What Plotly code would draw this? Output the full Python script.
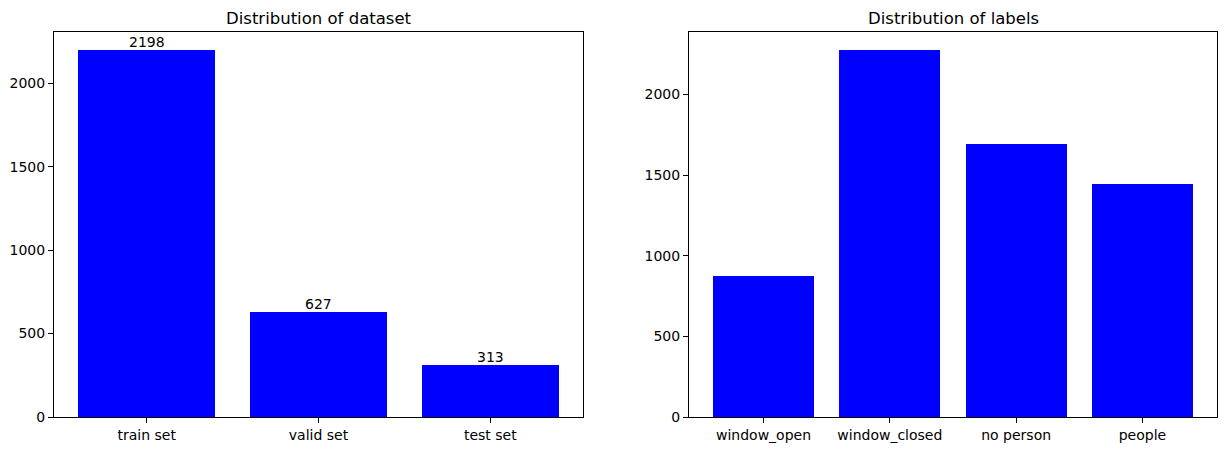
"""
plot.py - 데이터셋 분포 / 라벨 분포 막대차트 (1x2 subplot)
"""

import plotly.graph_objects as go
from plotly.subplots import make_subplots

BLUE = "#0000ff"
PAGE_W, PAGE_H = 1227, 451
OFF = 8  # html body 기본 margin
W, H = PAGE_W - 2 * OFF, PAGE_H - 2 * OFF

# 데이터
split_names = ["train set", "valid set", "test set"]
split_counts = [2198, 627, 313]

label_names = ["window_open", "window_closed", "no person", "people"]
label_counts = [872, 2273, 1693, 1446]

titles = ["Distribution of dataset", "Distribution of labels"]

FONT = dict(family="DejaVu Sans", size=14, color="black")


def px_x(x):
    """페이지 x 픽셀 → paper 좌표."""
    return (x - OFF) / W


def px_y(y):
    """페이지 y 픽셀(위에서부터) → paper 좌표."""
    return (H - (y - OFF)) / H


fig = make_subplots(rows=1, cols=2)

fig.add_trace(go.Bar(
    x=list(range(len(split_names))), y=split_counts,
    width=0.8, marker=dict(color=BLUE, line=dict(width=0)),
), row=1, col=1)

fig.add_trace(go.Bar(
    x=list(range(len(label_names))), y=label_counts,
    width=0.8, marker=dict(color=BLUE, line=dict(width=0)),
), row=1, col=2)

# 막대 위 값 라벨
for i, v in enumerate(split_counts):
    fig.add_annotation(
        x=i, y=v, xref="x", yref="y", text=str(v), showarrow=False,
        xanchor="center", yanchor="bottom", yshift=-2, font=FONT,
    )

# 축 (matplotlib 스타일: 5% 여백, 검은 테두리)
_axis = dict(
    showline=True, linecolor="black", linewidth=1.1, mirror=True,
    ticks="outside", ticklen=5, tickwidth=1.1, tickcolor="black",
    showgrid=False, zeroline=False, tickfont=FONT, automargin=False,
)

x_dom1 = [px_x(54), px_x(583)]
x_dom2 = [px_x(689), px_x(1217)]
y_dom = [px_y(417), px_y(32)]

fig.update_xaxes(
    domain=x_dom1,
    range=[-0.54, len(split_names) - 1 + 0.54],
    tickvals=list(range(len(split_names))), ticktext=split_names,
    **_axis, row=1, col=1,
)
fig.update_xaxes(
    domain=x_dom2,
    range=[-0.59, len(label_names) - 1 + 0.59],
    tickvals=list(range(len(label_names))), ticktext=label_names,
    **_axis, row=1, col=2,
)
fig.update_yaxes(domain=y_dom, range=[0, max(split_counts) * 1.05],
                 tickvals=[0, 500, 1000, 1500, 2000], **_axis, row=1, col=1)
fig.update_yaxes(domain=y_dom, range=[0, max(label_counts) * 1.05],
                 tickvals=[0, 500, 1000, 1500, 2000], **_axis, row=1, col=2)

# 서브플롯 제목
for t, dom in zip(titles, [x_dom1, x_dom2]):
    fig.add_annotation(
        text=t, x=(dom[0] + dom[1]) / 2, y=y_dom[1],
        xref="paper", yref="paper", xanchor="center", yanchor="bottom",
        yshift=2, showarrow=False,
        font=dict(family="DejaVu Sans", size=16.5, color="black"),
    )

fig.update_layout(
    width=W, height=H,
    margin=dict(l=0, r=0, t=0, b=0),
    plot_bgcolor="white", paper_bgcolor="white",
    showlegend=False, bargap=0,
    font=FONT,
)

fig.write_html("out.html")
